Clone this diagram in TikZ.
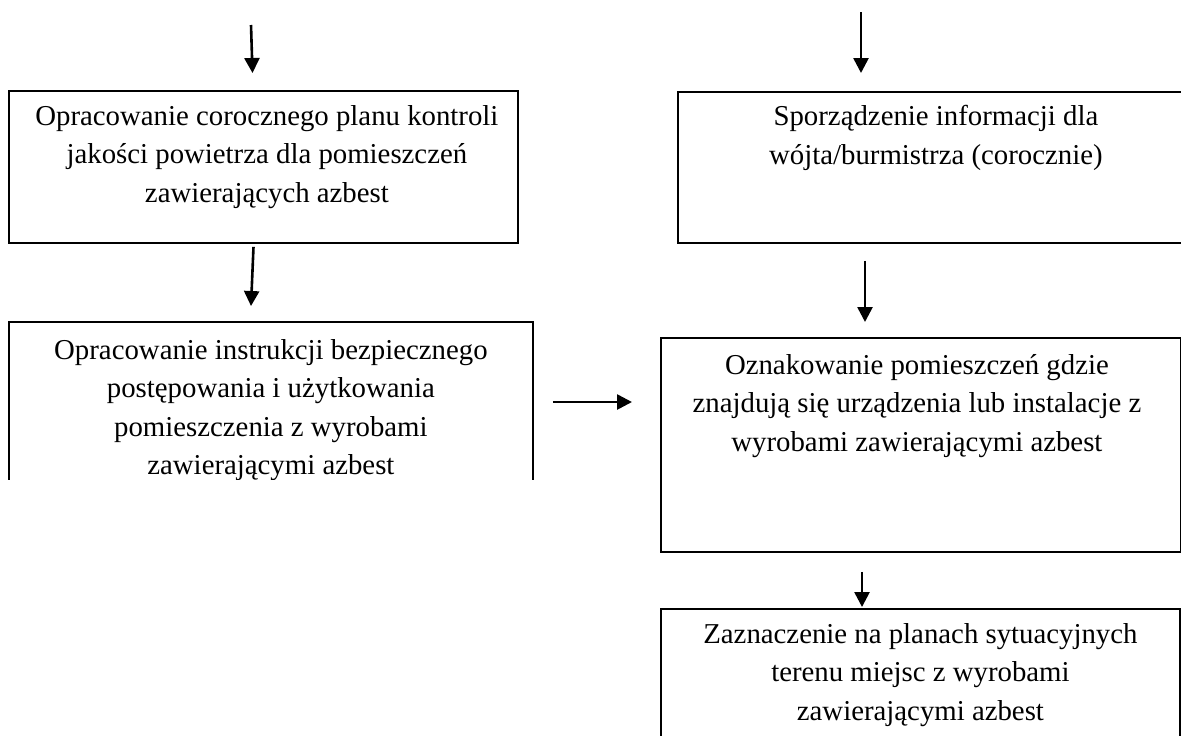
\documentclass[tikz,border=0pt]{standalone}
\usepackage{fontspec}
\setmainfont{Liberation Serif}
\usetikzlibrary{arrows.meta,positioning,calc}

\tikzset{
	ramka/.style={draw=black,line width=0.9pt,rectangle,inner sep=0pt,anchor=north west},
	opis/.style={align=center,inner sep=0pt,font=\fontsize{14.4}{19.2}\selectfont},
	strzalka/.style={line width=1.3pt,-{Triangle[length=7.5pt,width=7.5pt]}}
}

\begin{document}
\begin{tikzpicture}[x=0.5pt,y=-0.5pt]
	\useasboundingbox (0,0) rectangle (1181,735);
	\clip (0,0) rectangle (1181,735);
	% lewa kolumna
	\node[ramka,minimum width=254.5pt,minimum height=76pt] (plan) at (8,90) {};
	\node[opis,below=7.5pt of plan.north,xshift=1.75pt] (plant) {Opracowanie corocznego planu kontroli\\jakości powietrza dla pomieszczeń\\zawierających azbest};
	\begin{scope}
		\clip (0,0) rectangle (1181,479);
		\node[ramka,minimum width=262pt,minimum height=110pt] (instr) at (8,321) {};
		\node[opis,below=9pt of instr.north] (instrt) {Opracowanie instrukcji bezpiecznego\\postępowania i użytkowania\\pomieszczenia z wyrobami\\zawierającymi azbest};
	\end{scope}
	% prawa kolumna
	\node[ramka,minimum width=258pt,minimum height=75.5pt] (info) at (677,91) {};
	\node[opis,below=7pt of info.north] (infot) {Sporządzenie informacji dla\\wójta/burmistrza (corocznie)};
	\node[ramka,minimum width=260pt,minimum height=107pt] (oznak) at (660,337) {};
	\node[opis,below=8.5pt of oznak.north,xshift=-2pt] (oznakt) {Oznakowanie pomieszczeń gdzie\\znajdują się urządzenia lub instalacje z\\wyrobami zawierającymi azbest};
	\node[ramka,minimum width=259.5pt,minimum height=80pt] (zazn) at (660,608) {};
	\node[opis,below=7.5pt of zazn.north] (zaznt) {Zaznaczenie na planach sytuacyjnych\\terenu miejsc z wyrobami\\zawierającymi azbest};
	% strzalki
	\coordinate (wej1) at (251,25);
	\coordinate (wej2) at (861,12);
	\draw[strzalka] (wej1) -- ($(plan.north west)+(244.5,-17)$);
	\draw[strzalka] (wej2) -- ($(info.north west)+(184,-18)$);
	\draw[strzalka] ($(plan.south west)+(245.5,3)$) -- ($(instr.north west)+(243,-15)$);
	\draw[strzalka] ($(info.south west)+(188,17)$) -- ($(oznak.north west)+(205,-15)$);
	\draw[strzalka] ($(instr.north east)+(19,81)$) -- ($(oznak.north west)+(-28,65)$);
	\draw[strzalka] ($(oznak.south west)+(202,19)$) -- ($(zazn.north west)+(202,-1)$);
\end{tikzpicture}
\end{document}
